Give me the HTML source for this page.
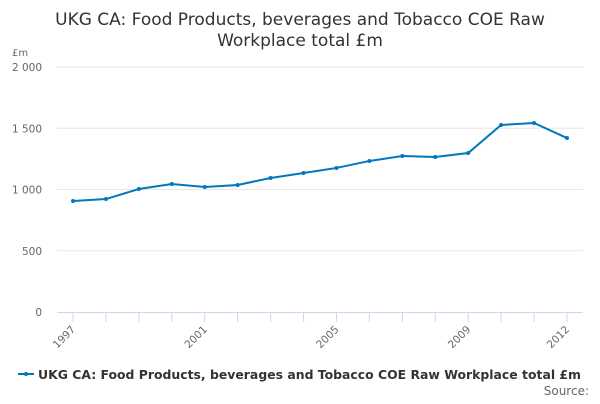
<!DOCTYPE html>
<html><head><meta charset="utf-8"><style>
body{margin:0;background:#fff;font-family:"DejaVu Sans","Liberation Sans",sans-serif;}
svg text{font-family:"DejaVu Sans","Liberation Sans",sans-serif;}
</style></head><body>
<svg id="c" width="600" height="400">
<text x="300" y="25" text-anchor="middle" font-size="17" fill="#333">UKG CA: Food Products, beverages and Tobacco COE Raw</text>
<text x="300" y="46" text-anchor="middle" font-size="17" fill="#333">Workplace total £m</text>
<text x="12" y="56" font-size="10" fill="#666">£m</text>
<g id="grid"></g><g id="xaxis"></g><g id="series"></g>
<g>
<line x1="18" y1="374" x2="34" y2="374" stroke="#0077be" stroke-width="2"/>
<circle cx="26" cy="374" r="2" fill="#0077be"/>
<text x="38" y="379" font-size="12.5" font-weight="bold" fill="#333" textLength="543" lengthAdjust="spacingAndGlyphs">UKG CA: Food Products, beverages and Tobacco COE Raw Workplace total £m</text>
</g>
<text x="589" y="395" text-anchor="end" font-size="12" fill="#666">Source:</text>
</svg>
<script>
const years=[1997,1998,1999,2000,2001,2002,2003,2004,2005,2006,2007,2008,2009,2010,2011,2012];
const values=[906,922,1004,1045,1020,1037,1094,1135,1176,1233,1273,1265,1298,1527,1543,1420];
const yTicks=[0,500,1000,1500,2000];
const yTickLabels=["0","500","1 000","1 500","2 000"];
const xLabelYears=[1997,2001,2005,2009,2012];
const NS="http://www.w3.org/2000/svg";
const x0=73,x1=567,yB=312,yT=67;
const xs=y=>x0+(y-years[0])/(years[years.length-1]-years[0])*(x1-x0);
const ys=v=>yB-v/2000*(yB-yT);
function mk(t,a,p){const e=document.createElementNS(NS,t);for(const k in a)e.setAttribute(k,a[k]);p.appendChild(e);return e;}
const g=document.getElementById('grid');
yTicks.forEach((v,i)=>{
 if(v>0){const l=mk('line',{x1:57,x2:583,y1:ys(v),y2:ys(v),stroke:'#e6e6e6'},g);
 
 }
 const t=mk('text',{x:42,y:ys(v)+4,'text-anchor':'end','font-size':10.5,fill:'#666'},g);
 t.textContent=yTickLabels[i];
 
 
});
const xa=document.getElementById('xaxis');
const ax=mk('line',{x1:57,x2:583,y1:yB+0.5,y2:yB+0.5,stroke:'#ccd6eb'},xa);


years.forEach(y=>{
 const t=mk('line',{x1:xs(y),x2:xs(y),y1:yB,y2:yB+10,stroke:'#ccd6eb'},xa);
 
 
});
xLabelYears.forEach(y=>{
 const t=mk('text',{x:xs(y)+3,y:yB+18,'text-anchor':'end','font-size':10.5,fill:'#666',transform:`rotate(-45 ${xs(y)+3} ${yB+18})`},xa);
 t.textContent=y;
 
 
});
const s=document.getElementById('series');
const pl=mk('polyline',{points:years.map((y,i)=>xs(y)+','+ys(values[i])).join(' '),fill:'none',stroke:'#0077be','stroke-width':2},s);


years.forEach((y,i)=>{
 const c=mk('circle',{cx:xs(y),cy:ys(values[i]),r:2,fill:'#0077be'},s);
 
 
});
</script>
</body></html>
